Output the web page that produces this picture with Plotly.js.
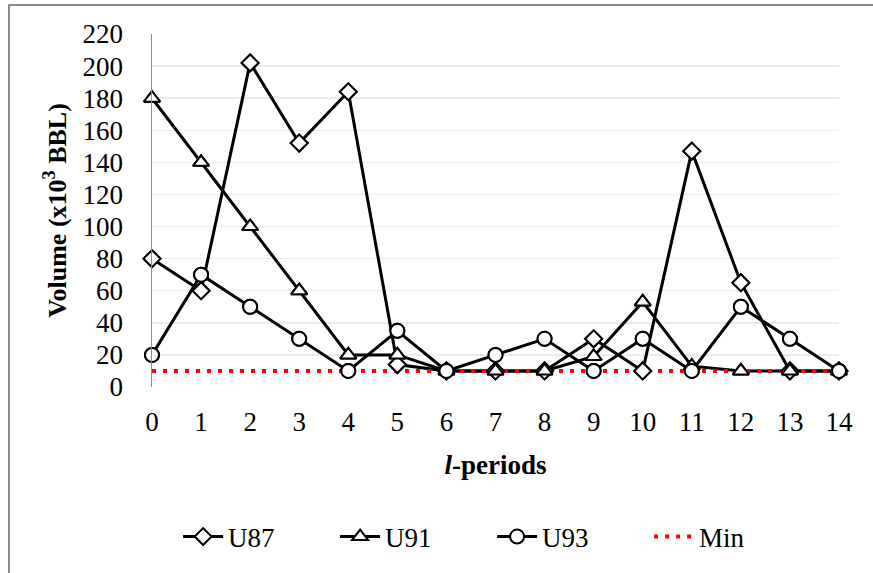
<!DOCTYPE html>
<html>
<head>
<meta charset="utf-8">
<script src="https://cdn.plot.ly/plotly-3.0.1.min.js"></script>
<style>
  html, body { margin: 0; padding: 0; background: #fff; }
  #wrap { position: relative; width: 873px; height: 573px; }
  #chart { position: absolute; left: 0; top: 0; width: 873px; height: 573px; }
  #frame { position: absolute; left: 8px; top: 4px; width: 880px; height: 600px;
           border-left: 2px solid #8c8c8c; border-top: 2px solid #8c8c8c; pointer-events: none; }
</style>
</head>
<body>
<div id="wrap">
  <div id="chart"></div>
  <div id="frame"></div>
</div>
<script>
const periods = [0, 1, 2, 3, 4, 5, 6, 7, 8, 9, 10, 11, 12, 13, 14];
const u87 = [80, 60, 202, 152, 184, 14, 10, 10, 10, 30, 10, 147, 65, 10, 10];
const u91 = [180, 140, 100, 60, 20, 20, 10, 10, 10, 19, 53, 13, 10, 10, 10];
const u93 = [20, 70, 50, 30, 10, 35, 10, 20, 30, 10, 30, 10, 50, 30, 10];
const minVol = [10, 10, 10, 10, 10, 10, 10, 10, 10, 10, 10, 10, 10, 10, 10];
const yTicks = [0, 20, 40, 60, 80, 100, 120, 140, 160, 180, 200, 220];

const FONT = '"Liberation Serif", "Times New Roman", serif';
const lineStyle = {color: '#000000', width: 3};

function mk(symbol, size) {
  return {symbol: symbol, size: size, color: '#ffffff', line: {color: '#000000', width: 2}};
}

const series = [
  {name: 'U87', y: u87, marker: mk('diamond', 13)},
  {name: 'U91', y: u91, marker: mk('triangle-up', 14)},
  {name: 'U93', y: u93, marker: mk('circle', 14)}
];

const traces = [];
series.forEach(s => {
  traces.push({x: periods, y: s.y, name: s.name, type: 'scatter', mode: 'lines+markers',
               line: lineStyle, marker: s.marker, cliponaxis: false});
});
traces.push({x: periods, y: minVol, name: 'Min', type: 'scatter', mode: 'lines',
             line: {color: '#ff0000', width: 4, dash: '4px,7px'}, cliponaxis: false});
series.forEach(s => {
  traces.push({x: periods, y: s.y, name: s.name, type: 'scatter', mode: 'markers',
               marker: s.marker, showlegend: false, cliponaxis: false});
});

const layout = {
  width: 873, height: 573,
  margin: {l: 152, r: 34, t: 34, b: 186, pad: 0},
  paper_bgcolor: '#ffffff', plot_bgcolor: '#ffffff',
  font: {family: FONT, size: 26, color: '#000000'},
  showlegend: true,
  legend: {orientation: 'h', x: 0.038, xanchor: 'left', y: -0.425, yanchor: 'middle',
           entrywidth: 102, entrywidthmode: 'pixels',
           font: {family: FONT, size: 27, color: '#000000'}, itemwidth: 40, traceorder: 'normal'},
  xaxis: {
    type: 'linear', range: [0, 14], tickvals: periods, ticktext: periods.map(String),
    showgrid: false, zeroline: false, showline: false, ticks: '',
    ticklabelstandoff: 16,
    tickfont: {family: FONT, size: 27, color: '#000000'},
    title: {text: '<b><i>l</i>-periods</b>', font: {family: FONT, size: 27, color: '#000000'}, standoff: 19}
  },
  yaxis: {
    range: [0, 220], tickvals: yTicks, ticktext: yTicks.map(String),
    showgrid: true, gridcolor: '#ebebeb', gridwidth: 1.5, zeroline: false,
    showline: true, linecolor: '#8c8c8c', linewidth: 1.5, ticks: '',
    ticklabelstandoff: 22,
    tickfont: {family: FONT, size: 27, color: '#000000'},
    title: {text: '<b>Volume (x10<sup>3</sup> BBL)</b>', font: {family: FONT, size: 26, color: '#000000'}, standoff: 8}
  }
};

Plotly.newPlot('chart', traces, layout, {displayModeBar: false, staticPlot: true});
</script>
</body>
</html>
